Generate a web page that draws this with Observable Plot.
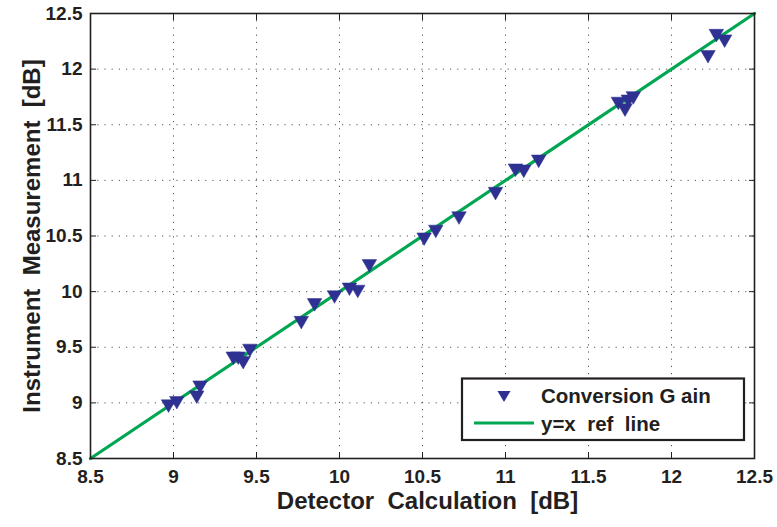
<!DOCTYPE html>
<html>
<head>
<meta charset="utf-8">
<script src="https://cdn.jsdelivr.net/npm/d3@7"></script>
<script src="https://cdn.jsdelivr.net/npm/@observablehq/plot@0.6"></script>
<style>
  html, body { margin: 0; padding: 0; background: #fff; }
  #wrap { position: relative; width: 777px; height: 527px; }
  #wrap svg text { white-space: pre; }
  #legend { position: absolute; left: 0; top: 0; pointer-events: none; }
</style>
</head>
<body>
<div id="wrap"></div>
<script>
// Detector calculation [dB] (x) and instrument measurement [dB] (y)
const detectorCalc = [8.97, 9.02, 9.14, 9.16, 9.36, 9.39, 9.42, 9.46,
  9.77, 9.85, 9.97, 10.06, 10.11, 10.18,
  10.51, 10.58, 10.72, 10.94, 11.06, 11.11, 11.20,
  11.68, 11.72, 11.74, 11.77, 12.22, 12.27, 12.32];
const instrumentMeas = [8.99, 9.02, 9.07, 9.16, 9.42, 9.42, 9.38, 9.49,
  9.74, 9.90, 9.97, 10.04, 10.02, 10.25,
  10.49, 10.56, 10.68, 10.90, 11.11, 11.10, 11.19,
  11.71, 11.65, 11.73, 11.76, 12.13, 12.32, 12.27];
const refLine = [8.5, 12.5];
const tickValues = [8.5, 9, 9.5, 10, 10.5, 11, 11.5, 12, 12.5];
const xTitle = "Detector  Calculation  [dB]";
const yTitle = "Instrument  Measurement  [dB]";
const seriesNames = ["Conversion G ain", "y=x  ref  line"];

const points = detectorCalc.map((x, i) => ({x, y: instrumentMeas[i]}));
const ref = refLine.map(v => ({x: v, y: v}));

const ink = "#231f20";
const blue = "#2e3192";
const green = "#00a651";
const font = "Liberation Sans, Arial, sans-serif";

const chart = Plot.plot({
  width: 777,
  height: 527,
  marginLeft: 90,
  marginRight: 23,
  marginTop: 13,
  marginBottom: 69,
  x: {domain: [8.5, 12.5]},
  y: {domain: [8.5, 12.5]},
  style: {fontFamily: font, fontWeight: "bold", fontSize: "19px", color: ink, background: "#fff"},
  marks: [
    Plot.gridX(tickValues.slice(1, -1), {stroke: "#555", strokeOpacity: 1, strokeWidth: 1, strokeDasharray: "1.2,6"}),
    Plot.gridY(tickValues.slice(1, -1), {stroke: "#555", strokeOpacity: 1, strokeWidth: 1, strokeDasharray: "1.2,6"}),
    Plot.line(ref, {x: "x", y: "y", stroke: green, strokeWidth: 3.2}),
    Plot.dot(points, {x: "x", y: "y", symbol: "triangle", rotate: 180, r: 5.4, fill: blue, stroke: blue, strokeWidth: 0.5}),
    Plot.axisX({ticks: tickValues, tickSize: 0, tickPadding: 11, tickFormat: d => String(d), fill: ink, label: null}),
    Plot.axisY({ticks: tickValues, tickSize: 0, tickPadding: 8, tickFormat: d => String(d), fill: ink, label: null}),
    Plot.axisX({ticks: tickValues, tickSize: -6, text: null, stroke: ink, label: null}),
    Plot.axisX({ticks: tickValues, anchor: "top", tickSize: -6, text: null, stroke: ink, label: null}),
    Plot.axisY({ticks: tickValues, tickSize: -6, text: null, stroke: ink, label: null}),
    Plot.axisY({ticks: tickValues, anchor: "right", tickSize: -6, text: null, stroke: ink, label: null}),
    Plot.frame({stroke: ink, strokeWidth: 1.6}),
    Plot.text([xTitle], {text: d => d, frameAnchor: "bottom", textAnchor: "middle", dx: 5, dy: 50, fontSize: 24, fontWeight: "bold", fill: ink}),
    Plot.text([yTitle], {text: d => d, frameAnchor: "left", textAnchor: "middle", dx: -58, rotate: -90, fontSize: 24, fontWeight: "bold", fill: ink})
  ]
});

const wrap = document.getElementById("wrap");
wrap.appendChild(chart);

// Legend overlay
const lg = d3.select(wrap).append("svg")
  .attr("id", "legend").attr("width", 777).attr("height", 527)
  .style("font-family", font).style("font-weight", "bold").style("font-size", "20.5px");
lg.append("rect").attr("x", 462).attr("y", 378.5).attr("width", 282).attr("height", 61.5)
  .attr("fill", "#fff").attr("stroke", ink).attr("stroke-width", 2.2);
lg.append("path").attr("d", "M497.5,391 L510.5,391 L504,402 Z").attr("fill", blue);
lg.append("text").attr("x", 541).attr("y", 403).attr("fill", ink).style("white-space", "pre").text(seriesNames[0]);
lg.append("line").attr("x1", 474).attr("x2", 534).attr("y1", 423).attr("y2", 423)
  .attr("stroke", green).attr("stroke-width", 3.2);
lg.append("text").attr("x", 541).attr("y", 431).attr("fill", ink).style("white-space", "pre").text(seriesNames[1]);
</script>
</body>
</html>
